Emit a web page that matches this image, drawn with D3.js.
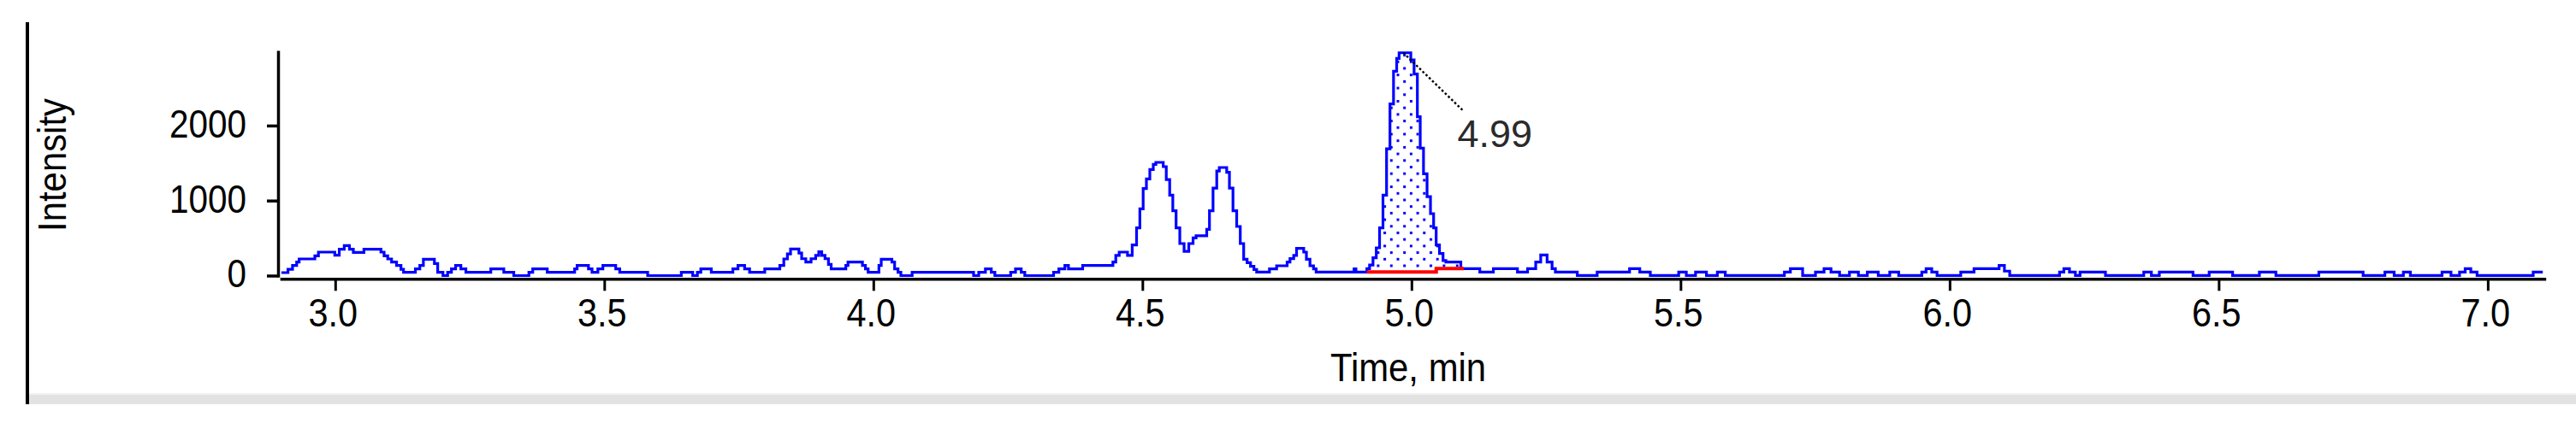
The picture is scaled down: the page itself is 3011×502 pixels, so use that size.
<!DOCTYPE html>
<html><head><meta charset="utf-8">
<script src="https://cdn.jsdelivr.net/npm/d3@7"></script>
<style>html,body{margin:0;padding:0;background:#fff;overflow:hidden}</style>
</head><body><svg id="c" width="3011" height="502"></svg>
<script>
// ---- data (time in min, intensity in counts) ----
const times = [2.900,2.909,2.9156,2.9258,2.931,2.935,2.959,2.9654,2.9723,2.996,3.0025,3.0126,3.021,3.032,3.0354,3.0528,3.054,3.083,3.087,3.0947,3.1005,3.109,3.119,3.1254,3.1286,3.1456,3.1525,3.162,3.1657,3.1827,3.186,3.195,3.2055,3.2123,3.2197,3.2277,3.2394,3.2463,3.2886,3.2897,3.3125,3.3141,3.3311,3.3326,3.3565,3.3634,3.3708,3.3936,3.3946,3.4423,3.4476,3.4514,3.4688,3.4725,3.482,3.4943,3.5006,3.5176,3.525,3.5324,3.5801,3.5812,3.6426,3.6437,3.6607,3.668,3.678,3.6808,3.6978,3.7,3.736,3.742,3.755,3.7666,3.7735,3.7974,3.799,3.8228,3.8297,3.8376,3.843,3.8493,3.8599,3.8636,3.87,3.879,3.8896,3.896,3.9012,3.907,3.9134,3.9198,3.9235,3.9468,3.951,3.9548,3.9775,3.982,3.9887,3.992,4.0083,4.0125,4.0168,4.0326,4.0364,4.0427,4.049,4.0533,4.0713,4.0729,4.1831,4.1895,4.2022,4.2144,4.224,4.2277,4.252,4.2584,4.27,4.2796,4.2833,4.3315,4.3384,4.3511,4.3607,4.3644,4.3882,4.3898,4.4439,4.4465,4.4545,4.4593,4.4689,4.4757,4.4863,4.492,4.4985,4.5043,4.5106,4.517,4.5234,4.5266,4.5366,4.5409,4.5478,4.5536,4.5594,4.5658,4.5732,4.5817,4.5907,4.5976,4.6018,4.6177,4.6214,4.6278,4.6347,4.6416,4.6442,4.6548,4.6585,4.6649,4.6717,4.6787,4.6850,4.6914,4.6977,4.7041,4.7104,4.7142,4.7353,4.7369,4.7486,4.7502,4.7671,4.7708,4.7777,4.7846,4.7883,4.7979,4.8016,4.8079,4.8148,4.8212,4.8244,4.8917,4.895,4.8986,4.9155,4.9187,4.9256,4.9314,4.9378,4.9436,4.9505,4.9569,4.9632,4.9701,4.9749,4.9791,4.9961,5.0014,5.0083,5.0136,5.0189,5.0258,5.0321,5.0385,5.0438,5.048,5.056,5.0613,5.0666,5.0904,5.0931,5.1265,5.1275,5.1514,5.153,5.1964,5.1975,5.215,5.2166,5.2282,5.2335,5.2468,5.2572,5.2653,5.2695,5.3063,5.31,5.3431,5.347,5.3984,5.4121,5.4364,5.4512,5.4904,5.5027,5.5187,5.5371,5.5592,5.5776,5.5887,5.6905,5.6955,5.7127,5.741,5.7605,5.7728,5.7863,5.8047,5.8231,5.8379,5.8563,5.8784,5.8992,5.9115,5.9446,5.952,5.9606,5.973,5.9803,6.0195,6.0219,6.0441,6.0466,6.0883,6.0957,6.108,6.1153,6.2012,6.2074,6.2172,6.2282,6.2393,6.2454,6.2884,6.2908,6.3559,6.3657,6.3842,6.3952,6.4504,6.4541,6.4811,6.4836,6.524,6.5278,6.5744,6.5769,6.6051,6.6075,6.6849,6.6873,6.7671,6.7696,6.8015,6.8162,6.8359,6.8506,6.8617,6.9083,6.9218,6.9415,6.9537,6.9624,6.9746,6.9856,7.0826,7.0863,7.1023];
const intensity = [40,40,85,135,180,222,222,264,313,313,271,351,400,351,309,309,351,351,313,264,222,180,135,85,44,44,89,135,218,218,160,44,0,44,89,135,89,44,44,89,89,44,44,0,0,44,89,89,44,44,89,135,135,89,44,89,135,135,89,44,44,0,0,44,44,0,44,89,89,44,44,89,135,89,44,44,89,89,135,222,290,355,355,300,225,180,225,270,317,270,225,150,89,89,135,180,180,135,89,44,44,135,218,218,180,89,44,0,0,44,44,0,44,89,44,0,0,44,89,44,0,0,44,89,135,89,89,135,135,180,268,313,313,268,408,636,890,1160,1289,1414,1482,1509,1509,1452,1281,1073,864,636,427,324,427,503,530,530,617,864,1167,1395,1441,1441,1376,1167,864,655,427,218,173,123,82,47,47,89,89,131,131,180,226,268,362,362,313,218,131,89,47,47,89,47,47,93,140,237,370,636,1072,1691,2287,2724,2895,2970,2970,2876,2686,2117,1699,1357,1053,826,636,408,294,200,180,180,93,93,47,47,93,93,47,47,93,93,180,275,180,93,47,47,2,2,47,47,93,47,2,2,47,2,47,2,47,2,2,47,93,2,47,93,47,2,47,2,47,2,47,2,2,47,93,47,2,2,47,47,93,93,135,60,2,2,47,93,47,2,47,47,2,2,47,2,47,47,2,2,47,47,2,2,47,47,2,2,47,47,2,2,47,2,47,2,2,47,2,47,93,47,2,2,47,47];
const baselineTimes = [4.917, 5.046, 5.097];
const baselineValues = [48, 93, 93];
const peakApexTimes = [4.985];
const peakLabels = ["4.99"];
const xMajorTicks = [3.0, 3.5, 4.0, 4.5, 5.0, 5.5, 6.0, 6.5, 7.0];
const xTickLabels = ["3.0","3.5","4.0","4.5","5.0","5.5","6.0","6.5","7.0"];
const xMinorTicks = d3.range(29, 72).map(d => d / 10);
const yMajorTicks = [0, 1000, 2000];
const yMinorTicks = [500, 1500, 2500];
const xTitle = "Time, min";
const yTitle = "Intensity";

// ---- layout ----
const svg = d3.select("#c");
const FONT = "'Liberation Sans', Arial, sans-serif";
const x = d3.scaleLinear().domain([2.9, 7.105]).range([328.9, 2973.9]);
const y = d3.scaleLinear().domain([0, 2982]).range([322.5, 60.7]);

// frame: left black line + grey band at bottom
svg.append("rect").attr("x", 34).attr("y", 460).attr("width", 2977).attr("height", 13).attr("fill", "#e2e2e2");
svg.append("rect").attr("x", 34).attr("y", 460).attr("width", 2977).attr("height", 2).attr("fill", "#f0f0f0");
svg.append("rect").attr("x", 30).attr("y", 26).attr("width", 4).attr("height", 447).attr("fill", "#000");

// dotted pattern
const defs = svg.append("defs");
const pat = defs.append("pattern").attr("id", "dots").attr("patternUnits", "userSpaceOnUse")
  .attr("x", 1640.2).attr("y", 78.5).attr("width", 15.4).attr("height", 15.4);
pat.append("rect").attr("x", 0).attr("y", 0).attr("width", 3).attr("height", 3).attr("fill", "#0000ff");
pat.append("rect").attr("x", 7.7).attr("y", 7.7).attr("width", 3).attr("height", 3).attr("fill", "#0000ff");

const data = times.map((t, i) => ({t, v: intensity[i]}));
const base = baselineTimes.map((t, i) => ({t, v: baselineValues[i]}));
function baseAt(t) {
  let v = base[0].v;
  for (const b of base) if (t >= b.t) v = b.v;
  return v;
}
const b0 = baselineTimes[0], b1 = baselineTimes[baselineTimes.length - 1];
const areaPts = [{t: b0, top: baseAt(b0), bot: baseAt(b0)}]
  .concat(data.filter(d => d.t > b0 && d.t < b1).map(d => ({t: d.t, top: Math.max(d.v, baseAt(d.t)), bot: baseAt(d.t)})))
  .concat([{t: b1, top: baseAt(b1), bot: baseAt(b1)}]);
svg.append("path").datum(areaPts)
  .attr("d", d3.area().curve(d3.curveStep).x(d => x(d.t)).y0(d => y(d.bot)).y1(d => y(d.top)))
  .attr("fill", "url(#dots)");

// trace
svg.append("path").datum(data)
  .attr("d", d3.line().curve(d3.curveStep).x(d => x(d.t)).y(d => y(d.v)))
  .attr("fill", "none").attr("stroke", "#0000ff").attr("stroke-width", 3.2).attr("stroke-linejoin", "miter");

// integration baseline
svg.append("path").datum(base)
  .attr("d", d3.line().curve(d3.curveStepAfter).x(d => x(d.t)).y(d => y(d.v)))
  .attr("fill", "none").attr("stroke", "#ff0000").attr("stroke-width", 4);

// peak annotation
const apexV = d3.max(intensity);
const ax = x(peakApexTimes[0]), ay = y(apexV);
svg.append("line").attr("x1", ax).attr("y1", ay).attr("x2", ax + 69).attr("y2", ay + 67)
  .attr("stroke", "#000").attr("stroke-width", 2.4).attr("stroke-dasharray", "2.6,2.6");
svg.append("text").attr("x", ax + 63).attr("y", 171.5).text(peakLabels[0])
  .attr("font-family", FONT).attr("font-size", 45).attr("fill", "#2a2a2a");

// y axis
const gy = svg.append("g").attr("transform", "translate(325,0)");
gy.call(d3.axisLeft(y).tickValues(yMinorTicks).tickSize(6).tickSizeOuter(0).tickFormat(""));
gy.call(d3.axisLeft(y).tickValues(yMajorTicks).tickSize(13).tickSizeOuter(0).tickPadding(24).tickFormat(d3.format("d")));
gy.selectAll("path.domain").attr("stroke-width", 3.5).attr("stroke-linecap", "square");
gy.selectAll(".tick line").attr("stroke-width", 3.5);
gy.selectAll(".tick text").attr("font-family", FONT).attr("font-size", 46).attr("fill", "#000").attr("dy", "0.29em");

// x axis
const gx = svg.append("g").attr("transform", "translate(0,326.3)");
gx.call(d3.axisBottom(x).tickValues(xMinorTicks).tickSize(6).tickSizeOuter(0).tickFormat(""));
gx.call(d3.axisBottom(x).tickValues(xMajorTicks).tickSize(14).tickSizeOuter(0).tickPadding(9)
  .tickFormat((d, i) => xTickLabels[i]));
gx.selectAll("path.domain").attr("stroke-width", 3.5).attr("stroke-linecap", "square");
gx.selectAll(".tick line").attr("stroke-width", 3);
gx.selectAll(".tick text").attr("font-family", FONT).attr("font-size", 46).attr("fill", "#000").attr("dx", -3);

// titles
svg.append("text").attr("class", "sq").attr("x", 1646).attr("y", 446).attr("text-anchor", "middle")
  .attr("font-family", FONT).attr("font-size", 46).attr("fill", "#000").text(xTitle);
svg.append("text").attr("class", "sq").attr("transform", "translate(77,193) rotate(-90)").attr("text-anchor", "middle")
  .attr("font-family", FONT).attr("font-size", 46).attr("fill", "#000").text(yTitle);

// narrow glyphs like the reference
function squeeze(sel, f) {
  sel.each(function () {
    const L = this.getComputedTextLength();
    this.setAttribute("textLength", (L * f).toFixed(1));
    this.setAttribute("lengthAdjust", "spacingAndGlyphs");
  });
}
squeeze(gy.selectAll(".tick text"), 0.88);
squeeze(gx.selectAll(".tick text"), 0.9);
squeeze(svg.selectAll("text.sq"), 0.91);
</script></body></html>
